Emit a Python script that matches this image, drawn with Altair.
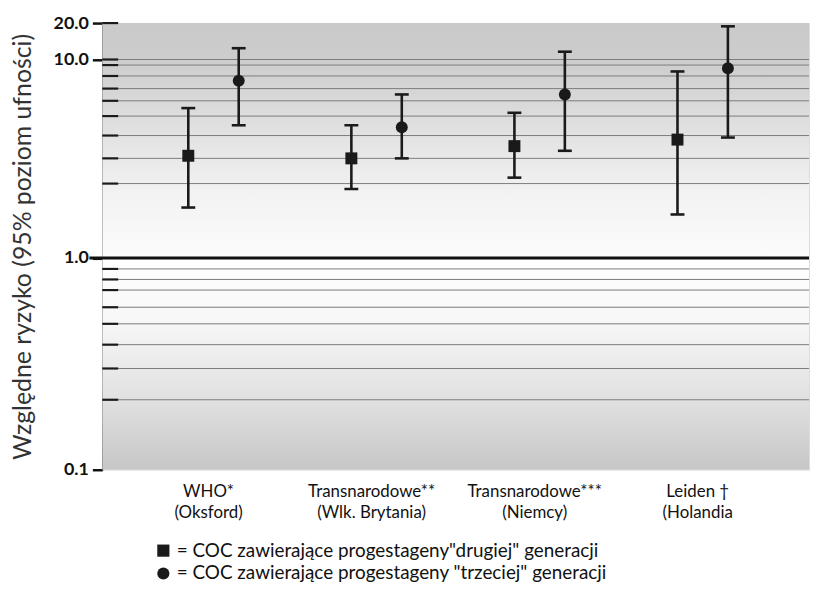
import altair as alt
import pandas as pd

# ---- data ----
studies = ["WHO*\n(Oksford)", "Transnarodowe**\n(Wlk. Brytania)",
           "Transnarodowe***\n(Niemcy)", "Leiden †\n(Holandia"]
series = ['= COC zawierające progestageny"drugiej" generacji',
          '= COC zawierające progestageny "trzeciej" generacji']

rr_second = [3.1, 3.0, 3.5, 3.8]
lo_second = [1.6, 1.9, 2.2, 1.5]
hi_second = [5.5, 4.5, 5.2, 8.4]

rr_third = [7.6, 4.4, 6.5, 8.7]
lo_third = [4.5, 3.0, 3.3, 3.9]
hi_third = [12.4, 6.5, 11.6, 18.8]

grid_values = [0.2, 0.3, 0.4, 0.5, 0.6, 0.7, 0.8, 0.9,
               2, 3, 4, 5, 6, 7, 8, 9, 10]
inner_tick_values = [0.2, 0.3, 0.4, 0.5, 0.6, 0.7, 0.8, 0.9,
                     2, 3, 4, 5, 6, 7, 8, 9, 10, 20]
axis_values = [0.1, 1, 10, 20]

# the reference's (roughly logarithmic) vertical scale, anchored at its grid lines
scale_values = [0.1, 0.2, 0.3, 0.4, 0.5, 0.6, 0.7, 0.8, 0.9, 1,
                2, 3, 4, 5, 6, 7, 8, 9, 10, 20]
scale_px = [450, 379.5, 348, 324, 303, 286.3, 269, 258.3, 247.7, 236.7,
            161.7, 136.3, 113.3, 93.7, 78.3, 66, 53.3, 42.3, 36.7, 0]

rows = []
for i, s in enumerate(studies):
    rows.append(dict(study=s, series=series[0], rr=rr_second[i], lo=lo_second[i], hi=hi_second[i]))
    rows.append(dict(study=s, series=series[1], rr=rr_third[i], lo=lo_third[i], hi=hi_third[i]))
df = pd.DataFrame(rows)

bands = pd.DataFrame({"top": [20, 1], "bottom": [1, 0.1], "part": ["upper", "lower"]})
grid_df = pd.DataFrame({"v": grid_values})
itick_df = pd.DataFrame({"v": inner_tick_values})
unity_df = pd.DataFrame({"v": [1]})

FONT = "Lato"
W, H = 712, 450

yscale = alt.Scale(type="log", domain=scale_values, range=scale_px, nice=False, zero=False)
yaxis = alt.Axis(values=axis_values, format=".1f", grid=False, tickSize=10, tickWidth=2.5,
                 tickColor="#111", domainColor="#333", domainWidth=1.5,
                 labelFont=FONT, labelFontSize=18, labelFontWeight="bold", labelColor="#111",
                 labelPadding=4, titleFont=FONT, titleFontSize=25, titleFontWeight="normal",
                 titleColor="#333", titlePadding=18)
YTITLE = "Względne ryzyko (95% poziom ufności)"


def Y(field):
    return alt.Y(field, type="quantitative", scale=yscale, axis=yaxis, title=YTITLE)


xenc = alt.X("study:N", sort=studies, title=None,
             scale=alt.Scale(domain=studies, paddingInner=0, paddingOuter=0.167, align=0.545),
             axis=alt.Axis(labelExpr="split(datum.label, '\\n')", labelAngle=0, domain=False,
                           ticks=False, labelFont=FONT, labelFontSize=17, labelColor="#111",
                           labelPadding=14, labelLineHeight=21, labelOffset=-5, labelLimit=300))
xoff = alt.XOffset("series:N", sort=series,
                   scale=alt.Scale(domain=series, paddingInner=0, paddingOuter=0.617))

upper_grad = alt.LinearGradient(gradient="linear", x1=0, x2=0, y1=0, y2=1, stops=[
    alt.GradientStop(color="#cacaca", offset=0),
    alt.GradientStop(color="#cccccc", offset=0.15),
    alt.GradientStop(color="#e4e4e4", offset=0.5),
    alt.GradientStop(color="#f2f2f2", offset=0.72),
    alt.GradientStop(color="#fcfcfc", offset=1)])
lower_grad = alt.LinearGradient(gradient="linear", x1=0, x2=0, y1=0, y2=1, stops=[
    alt.GradientStop(color="#ffffff", offset=0),
    alt.GradientStop(color="#f7f7f7", offset=0.3),
    alt.GradientStop(color="#e2e2e2", offset=0.65),
    alt.GradientStop(color="#c6c6c6", offset=1)])

bg_up = alt.Chart(bands).transform_filter("datum.part == 'upper'").mark_rect(
    fill=upper_grad).encode(
    x=alt.value(0), x2=alt.value("width"), y=Y("top"), y2=alt.Y2("bottom"))
bg_lo = alt.Chart(bands).transform_filter("datum.part == 'lower'").mark_rect(
    fill=lower_grad).encode(
    x=alt.value(0), x2=alt.value("width"), y=Y("top"), y2=alt.Y2("bottom"))

grid = alt.Chart(grid_df).mark_rule(color="#7c7c7c", strokeWidth=1).encode(
    x=alt.value(0), x2=alt.value("width"), y=Y("v"))
itick = alt.Chart(itick_df).mark_rule(color="#1a1a1a", strokeWidth=2.2).encode(
    x=alt.value(0), x2=alt.value(16), y=Y("v"))
unity = alt.Chart(unity_df).mark_rule(color="#111", strokeWidth=3).encode(
    x=alt.value(-13), x2=alt.value("width"), y=Y("v"))

err = alt.Chart(df).mark_rule(color="#1a1a1a", strokeWidth=2.6).encode(
    x=xenc, xOffset=xoff, y=Y("lo"), y2=alt.Y2("hi"))
cap_lo = alt.Chart(df).mark_tick(color="#1a1a1a", size=14, thickness=2.6, opacity=1).encode(
    x=xenc, xOffset=xoff, y=Y("lo"))
cap_hi = alt.Chart(df).mark_tick(color="#1a1a1a", size=14, thickness=2.6, opacity=1).encode(
    x=xenc, xOffset=xoff, y=Y("hi"))
pts = alt.Chart(df).mark_point(filled=True, size=145, color="#1a1a1a", opacity=1).encode(
    x=xenc, xOffset=xoff, y=Y("rr"),
    shape=alt.Shape("series:N", sort=series,
                    scale=alt.Scale(domain=series, range=["square", "circle"]),
                    legend=alt.Legend(title=None, orient="none", legendX=52, legendY=522,
                                      direction="vertical", labelFont=FONT, labelFontSize=19,
                                      labelColor="#111", labelLimit=700, symbolSize=150,
                                      symbolFillColor="#111", symbolStrokeColor="#111",
                                      symbolStrokeWidth=0, labelOffset=4, rowPadding=3,
                                      padding=0)))

chart = alt.layer(bg_up, bg_lo, grid, itick, unity, err, cap_lo, cap_hi, pts).properties(
    width=W, height=H,
    autosize=alt.AutoSizeParams(type="none"),
    padding={"left": 95, "top": 13, "right": 1, "bottom": 122},
).configure_view(stroke="#666", strokeWidth=1.5).configure(background="white")

chart.save("out.html", embed_options={"renderer": "svg", "actions": False})
